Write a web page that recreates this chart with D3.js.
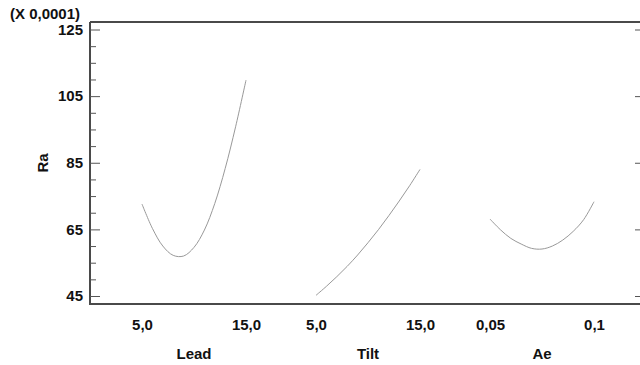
<!DOCTYPE html>
<html>
<head>
<meta charset="utf-8">
<script src="https://cdn.jsdelivr.net/npm/d3@7"></script>
<style>
	body { margin: 0; background: #fff; }
	text { font-family: "Liberation Sans", Arial, sans-serif; font-weight: bold; fill: #111; }
</style>
</head>
<body>
<div id="chart"></div>
<script>
// main effects data (Ra in units of 0,0001)
var factors = ["Lead", "Tilt", "Ae"];

var leadX  = [5, 6, 7, 8, 9, 10, 11, 12, 13, 14, 15];
var leadRa = [72.6, 65.3, 60.0, 57.2, 57.0, 59.6, 64.8, 72.8, 83.3, 95.8, 109.8];

var tiltX  = [5, 6, 7, 8, 9, 10, 11, 12, 13, 14, 15];
var tiltRa = [45.2, 47.9, 50.8, 53.9, 57.3, 61.0, 64.9, 69.1, 73.5, 78.1, 83.0];

var aeX  = [0.05, 0.055, 0.06, 0.065, 0.07, 0.075, 0.08, 0.085, 0.09, 0.095, 0.1];
var aeRa = [68.1, 64.9, 62.3, 60.6, 59.3, 59.1, 60.0, 61.8, 64.4, 67.9, 73.3];

var leadTicks = [5, 15];      var leadLabels = ["5,0", "15,0"];
var tiltTicks = [5, 15];      var tiltLabels = ["5,0", "15,0"];
var aeTicks = [0.05, 0.1];    var aeLabels = ["0,05", "0,1"];

var yTicks = [45, 65, 85, 105, 125];
var yMinor = [50, 55, 60, 70, 75, 80, 90, 95, 100, 110, 115, 120];

var width = 640;
var height = 365;
var frameLeft = 90, frameRight = 645, frameTop = 22, frameBottom = 304;
var halfSpan = 52;

var svg = d3.select("#chart")
	.append("svg")
	.attr("width", width)
	.attr("height", height);

var y = d3.scaleLinear().domain([45, 125]).range([296, 29.5]);
var fx = d3.scalePoint().domain(factors).range([194, 542]);

var panels = [
	{ name: "Lead", xs: leadX, ys: leadRa, ticks: leadTicks, labels: leadLabels },
	{ name: "Tilt", xs: tiltX, ys: tiltRa, ticks: tiltTicks, labels: tiltLabels },
	{ name: "Ae",   xs: aeX,   ys: aeRa,   ticks: aeTicks,   labels: aeLabels }
];

// frame
svg.append("path")
	.attr("d", "M" + frameLeft + "," + frameTop + "H" + frameRight +
		"M" + frameLeft + "," + frameTop + "V" + frameBottom + "H" + frameRight)
	.attr("fill", "none")
	.attr("stroke", "#4a4a4a")
	.attr("stroke-width", 2);

// left axis, major ticks
var yAxis = svg.append("g")
	.attr("transform", "translate(" + frameLeft + ",0)")
	.call(d3.axisLeft(y).tickValues(yTicks).tickSize(-10).tickPadding(7).tickFormat(d3.format("d")));
yAxis.select(".domain").remove();
yAxis.selectAll("line").attr("stroke", "#555");
yAxis.selectAll("text").style("font-size", "15px").attr("fill", "#111");

// left axis, minor ticks
var yMinorAxis = svg.append("g")
	.attr("transform", "translate(" + frameLeft + ",0)")
	.call(d3.axisLeft(y).tickValues(yMinor).tickSize(-6).tickFormat(""));
yMinorAxis.select(".domain").remove();
yMinorAxis.selectAll("line").attr("stroke", "#555");

// right axis
var yRight = svg.append("g")
	.attr("transform", "translate(" + frameRight + ",0)")
	.call(d3.axisRight(y).tickValues(yTicks).tickSize(-10).tickFormat(""));
yRight.select(".domain").remove();
yRight.selectAll("line").attr("stroke", "#555");

var line = d3.line().curve(d3.curveCatmullRom);

panels.forEach(function(p) {
	var c = fx(p.name);
	var x = d3.scaleLinear()
		.domain([p.xs[0], p.xs[p.xs.length - 1]])
		.range([c - halfSpan, c + halfSpan]);

	var xAxis = svg.append("g")
		.attr("transform", "translate(0," + frameBottom + ")")
		.call(d3.axisBottom(x).tickValues(p.ticks).tickSize(0).tickPadding(15)
			.tickFormat(function(d, i) { return p.labels[i]; }));
	xAxis.select(".domain").remove();
	xAxis.selectAll("text").style("font-size", "15px").attr("fill", "#111");

	svg.append("path")
		.datum(d3.zip(p.xs, p.ys))
		.attr("fill", "none")
		.attr("stroke", "#999")
		.attr("stroke-width", 1)
		.attr("d", line.x(function(d) { return x(d[0]); }).y(function(d) { return y(d[1]); }));

	svg.append("text")
		.attr("x", c)
		.attr("y", 359)
		.attr("text-anchor", "middle")
		.style("font-size", "15px")
		.text(p.name);
});

// y title and multiplier
svg.append("text")
	.attr("transform", "translate(48,163) rotate(-90)")
	.attr("text-anchor", "middle")
	.style("font-size", "15px")
	.text("Ra");

svg.append("text")
	.attr("x", 10)
	.attr("y", 19)
	.style("font-size", "15px")
	.text("(X 0,0001)");
</script>
</body>
</html>
